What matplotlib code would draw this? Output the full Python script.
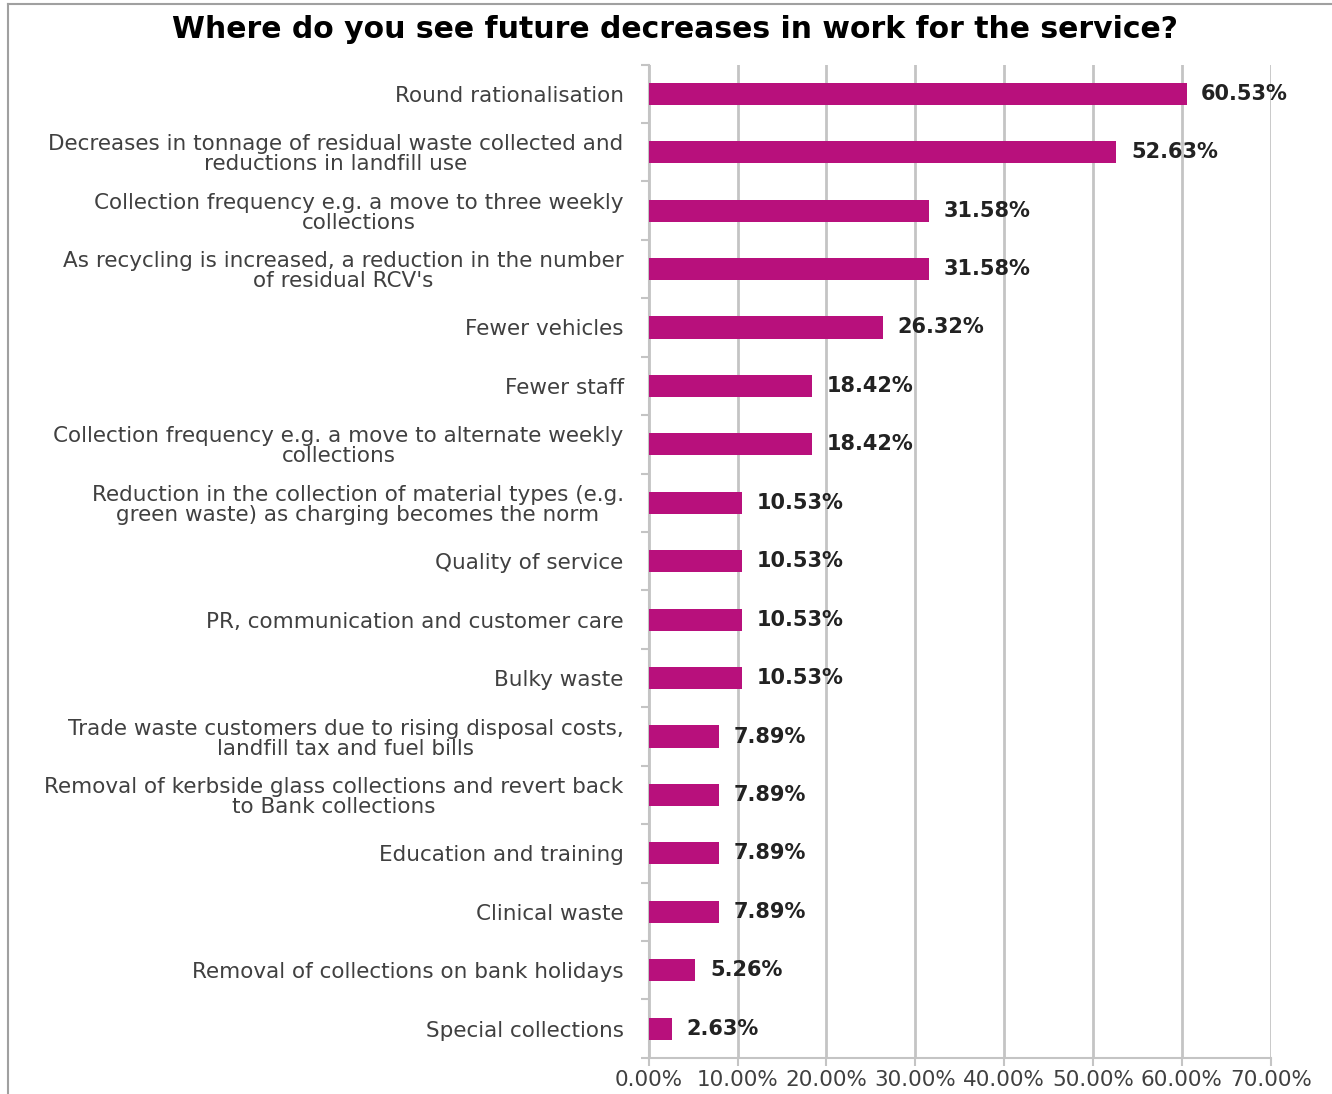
import matplotlib
matplotlib.use('Agg')
import matplotlib.pyplot as plt
from matplotlib.lines import Line2D

title = 'Where do you see future decreases in work for the service?'
categories = [
    'Round rationalisation',
    'Decreases in tonnage of residual waste collected and\nreductions in landfill use',
    'Collection frequency e.g. a move to three weekly\ncollections',
    "As recycling is increased, a reduction in the number\nof residual RCV's",
    'Fewer vehicles',
    'Fewer staff',
    'Collection frequency e.g. a move to alternate weekly\ncollections',
    'Reduction in the collection of material types (e.g.\ngreen waste) as charging becomes the norm',
    'Quality of service',
    'PR, communication and customer care',
    'Bulky waste',
    'Trade waste customers due to rising disposal costs,\nlandfill tax and fuel bills',
    'Removal of kerbside glass collections and revert back\nto Bank collections',
    'Education and training',
    'Clinical waste',
    'Removal of collections on bank holidays',
    'Special collections',
]
percentages = [60.53, 52.63, 31.58, 31.58, 26.32, 18.42, 18.42, 10.53, 10.53,
               10.53, 10.53, 7.89, 7.89, 7.89, 7.89, 5.26, 2.63]
xticks = [0, 10, 20, 30, 40, 50, 60, 70]

bar_color = '#b8107c'
grid_color = '#c4c4c4'
text_color = '#404040'

plt.rcParams['font.family'] = ['DejaVu Sans']

fig = plt.figure(figsize=(13.32, 10.94), dpi=100)
ax = fig.add_axes([0.487, 0.033, 0.467, 0.908])

pos = list(range(len(categories)))
ax.barh(pos, percentages, height=0.38, color=bar_color, zorder=3)
for y, v in zip(pos, percentages):
    ax.annotate('%.2f%%' % v, (v, y), xytext=(10.5, 0), textcoords='offset points',
                va='center', ha='left', fontsize=15, fontweight='bold', color='#222222')

ax.set_xlim(0, 70)
ax.set_ylim(len(categories) - 0.5, -0.5)
ax.set_xticks(xticks)
ax.set_xticklabels(['%.2f%%' % t for t in xticks], fontsize=15.5, color=text_color)
ax.set_yticks(pos)
ax.set_yticklabels(categories, fontsize=15.5, color=text_color, linespacing=1.0,
                   multialignment='center')
ax.set_yticks([p + 0.5 for p in [-1] + pos], minor=True)
ax.tick_params(axis='y', which='major', length=0, pad=18)
ax.tick_params(axis='y', which='minor', length=6, color=grid_color, width=1.5)
ax.tick_params(axis='x', length=6, color=grid_color, width=1.5, pad=3)
ax.xaxis.grid(True, color=grid_color, linewidth=2, zorder=0)
for s in ['top', 'right']:
    ax.spines[s].set_visible(False)
for s in ['left', 'bottom']:
    ax.spines[s].set_color(grid_color)
    ax.spines[s].set_linewidth(1.5)

fig.text(0.507, 0.9726, title, ha='center', va='center', fontsize=21.5, fontweight='bold', color='black')

# thin frame around the chart area
fig.add_artist(Line2D([0.006, 1.0], [0.996, 0.996], color='#a0a0a0', linewidth=1.5))
fig.add_artist(Line2D([0.006, 0.006], [0.0, 0.996], color='#a0a0a0', linewidth=1.5))

fig.savefig('out.png', dpi=100)
